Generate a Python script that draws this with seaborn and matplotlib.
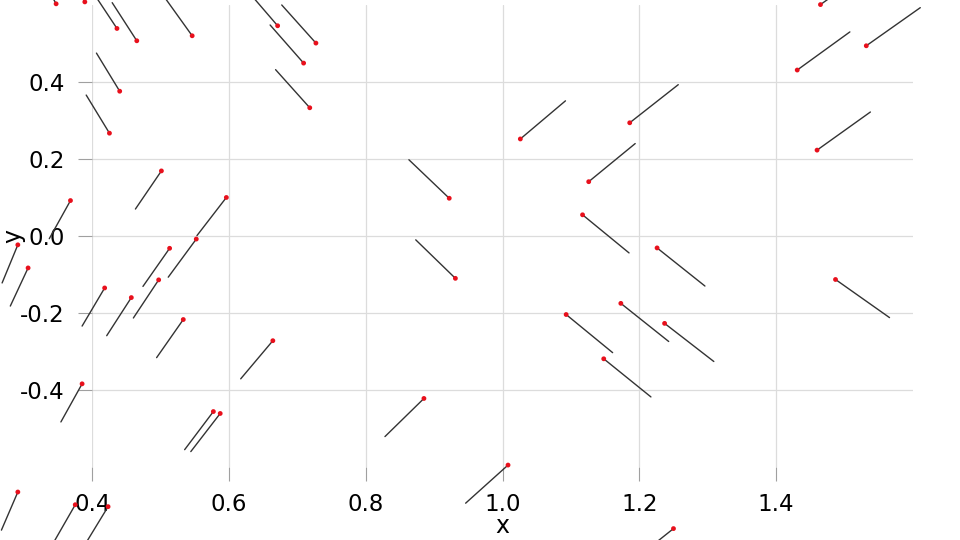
import matplotlib
matplotlib.use("Agg")
import matplotlib.pyplot as plt
import seaborn as sns
import pandas as pd

# particle positions (red dots) and their trailing segment vectors
pos_x = [0.347, 0.389, 0.436, 0.465, 0.546, 0.671, 0.727, 0.709, 0.718, 0.440, 0.425,
         0.922, 0.931,
         0.501, 0.368, 0.596, 0.552, 0.291, 0.306, 0.513, 0.418, 0.457, 0.497, 0.533,
         0.664, 0.385, 0.577, 0.587, 0.291, 0.375, 0.423, 0.885, 1.008, 1.250,
         1.093, 1.173, 1.237, 1.148, 1.487, 1.117, 1.226,
         1.465, 1.532, 1.431, 1.460, 1.026, 1.186, 1.126]
pos_y = [0.603, 0.608, 0.539, 0.507, 0.520, 0.546, 0.501, 0.449, 0.333, 0.376, 0.267,
         0.098, -0.110,
         0.169, 0.092, 0.100, -0.008, -0.023, -0.083, -0.032, -0.135, -0.160, -0.114, -0.217,
         -0.272, -0.384, -0.456, -0.461, -0.665, -0.698, -0.703, -0.422, -0.595, -0.760,
         -0.204, -0.175, -0.227, -0.319, -0.113, 0.055, -0.031,
         0.601, 0.494, 0.431, 0.223, 0.252, 0.294, 0.141]
vec_u = [-0.031, -0.033, -0.037, -0.036, -0.040, -0.048, -0.050, -0.049, -0.050, -0.034, -0.034,
         -0.059, -0.058,
         -0.038, -0.031, -0.043, -0.041, -0.023, -0.026, -0.039, -0.033, -0.036, -0.037, -0.039,
         -0.047, -0.031, -0.042, -0.043, -0.024, -0.032, -0.034, -0.057, -0.062, -0.070,
         0.068, 0.070, 0.072, 0.069, 0.079, 0.068, 0.070,
         0.078, 0.079, 0.077, 0.078, 0.066, 0.071, 0.068]
vec_v = [0.099] * 11 + [0.100, 0.100] + [-0.099] * 21 + [-0.099] * 7 + [0.099] * 7

x_ticks = [0.4, 0.6, 0.8, 1.0, 1.2, 1.4]
y_ticks = [-0.4, -0.2, 0.0, 0.2, 0.4]

sns.set_theme(style="whitegrid")
plt.rcParams["axes.unicode_minus"] = False
plt.rcParams["font.family"] = ["DejaVu Sans"]

rows = []
for i in range(len(pos_x)):
    rows.append({"seg": i, "x": pos_x[i], "y": pos_y[i]})
    rows.append({"seg": i, "x": pos_x[i] + vec_u[i], "y": pos_y[i] + vec_v[i]})
seg_df = pd.DataFrame(rows)

fig = plt.figure(figsize=(9.6, 5.4), dpi=100)
ax = fig.add_axes([0.0962, 0.1352, 0.8546, 0.8556])

sns.lineplot(data=seg_df, x="x", y="y", units="seg", estimator=None, sort=False,
             color="#333333", linewidth=1.0, ax=ax)
for ln in ax.lines:
    ln.set_clip_on(False)

sns.scatterplot(x=pos_x, y=pos_y, color="#e8101c", s=12, edgecolor="none",
                ax=ax, clip_on=False, zorder=3)

ax.set_xlim(0.4, 1.6)
ax.set_ylim(-0.6, 0.6)
ax.set_xticks(x_ticks)
ax.set_yticks(y_ticks)
ax.set_xticklabels([f"{t:.1f}" for t in x_ticks])
ax.set_yticklabels([f"{t:.1f}" for t in y_ticks])
ax.grid(True, color="#dcdcdc", linewidth=0.9)
sns.despine(ax=ax, left=True, bottom=True, top=True, right=True)
ax.tick_params(axis="both", which="major", direction="out", length=10, width=0.8,
               color="#a0a0a0", labelsize=16.5, labelcolor="black",
               bottom=True, left=True)
ax.tick_params(axis="x", pad=9)
ax.tick_params(axis="y", pad=10)

ax.set_xlabel("x", fontsize=17, color="black")
ax.set_ylabel("y", fontsize=17, color="black")
ax.xaxis.set_label_coords(0.5, -0.102)
ax.yaxis.set_label_coords(-0.082, 0.5)

fig.savefig("out.png", dpi=100)
plt.close(fig)
